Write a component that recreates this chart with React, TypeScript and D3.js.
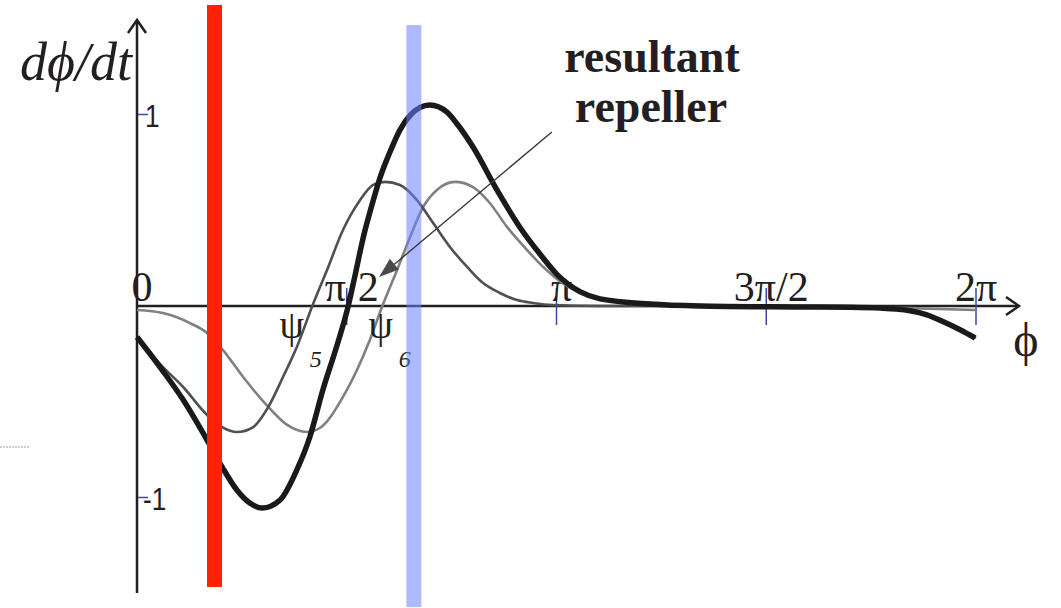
import React from 'react';
import * as d3 from 'd3';

const W = 1061;
const H = 608;

// φ in multiples of π, paired with dφ/dt values
const psi5Phi = [0, 0.062, 0.110, 0.167, 0.203, 0.238, 0.277, 0.313, 0.348, 0.381, 0.417, 0.453, 0.491, 0.532, 0.563, 0.591, 0.627, 0.667, 0.706, 0.746, 0.787, 0.825, 0.865, 0.906, 0.944, 0.992, 1.104, 1.342, 1.580, 1.700, 1.771, 1.810, 1.843, 1.883, 1.921, 1.962, 2.0];
const psi5Val = [-0.167, -0.319, -0.423, -0.569, -0.632, -0.658, -0.632, -0.527, -0.371, -0.214, -0.005, 0.188, 0.397, 0.554, 0.632, 0.648, 0.632, 0.554, 0.433, 0.308, 0.204, 0.120, 0.068, 0.031, 0.016, 0.005, 0, 0, 0, -0.002, -0.006, -0.012, -0.021, -0.043, -0.078, -0.121, -0.167];

const psi6Phi = [0, 0.062, 0.126, 0.167, 0.205, 0.253, 0.313, 0.358, 0.405, 0.436, 0.491, 0.555, 0.584, 0.620, 0.651, 0.682, 0.715, 0.758, 0.801, 0.841, 0.882, 0.930, 0.968, 1.001, 1.056, 1.104, 1.223, 1.342, 1.580, 1.819, 2.0];
const psi6Val = [-0.021, -0.037, -0.089, -0.141, -0.230, -0.371, -0.527, -0.621, -0.658, -0.637, -0.475, -0.178, -0.005, 0.188, 0.360, 0.517, 0.606, 0.648, 0.621, 0.538, 0.413, 0.292, 0.204, 0.141, 0.068, 0.037, 0.010, 0, -0.005, -0.010, -0.021];

const sumPhi = [0, 0.062, 0.110, 0.167, 0.203, 0.238, 0.269, 0.298, 0.341, 0.381, 0.412, 0.443, 0.477, 0.503, 0.520, 0.539, 0.560, 0.579, 0.603, 0.627, 0.651, 0.675, 0.698, 0.739, 0.765, 0.801, 0.858, 0.913, 0.961, 1.001, 1.056, 1.104, 1.223, 1.342, 1.580, 1.700, 1.771, 1.810, 1.843, 1.883, 1.921, 1.962, 1.998];
const sumVal = [-0.162, -0.340, -0.490, -0.700, -0.841, -0.961, -1.029, -1.055, -1.013, -0.856, -0.684, -0.439, -0.204, -0.005, 0.162, 0.355, 0.527, 0.668, 0.804, 0.920, 0.995, 1.037, 1.050, 1.013, 0.945, 0.830, 0.606, 0.410, 0.270, 0.165, 0.075, 0.037, 0.010, 0, -0.005, -0.007, -0.011, -0.016, -0.025, -0.046, -0.081, -0.124, -0.167];

const xTickValues = [0, 0.5, 1, 1.5, 2];
const xTickLabels = ['0', 'π/2', 'π', '3π/2', '2π'];
const yTickValues = [1, -1];
const yTickLabels = ['1', '-1'];

// vertical highlight bands: φ (×π) and dφ/dt extent
const redBandPhi = 0.1847;
const redBandRange = [-1.467, 1.572];
const blueBandPhi = 0.66;
const blueBandRange = [-1.572, 1.467];

// fixed points labelled under the axis
const fixedPointNames = ['5', '6'];
const fixedPointPhi = [0.369, 0.581];

// annotation arrow (φ ×π, dφ/dt)
const arrowFrom = [0.989, 0.909];
const arrowTo = [0.577, 0.151];

const x = d3.scaleLinear().domain([0, 2]).range([137, 976]);
const y = d3.scaleLinear().domain([-1, 1]).range([497.5, 114.5]);

const toPairs = (p: number[], v: number[]) => p.map((d, i) => [d, v[i]] as [number, number]);

const line = d3
  .line<[number, number]>()
  .x((d) => x(d[0]))
  .y((d) => y(d[1]))
  .curve(d3.curveMonotoneX);

const SERIF = '"Liberation Serif", "Times New Roman", serif';
const SANS = '"Liberation Sans", Arial, sans-serif';
const INK = '#231f20';
const TICK = '#3b48a8';

export default function App() {
  const y0 = y(0);
  const bandW = 15;

  const ax = x(arrowFrom[0]);
  const ay = y(arrowFrom[1]);
  const bx = x(arrowTo[0]);
  const by = y(arrowTo[1]);
  const ang = Math.atan2(by - ay, bx - ax);
  const headLen = 20;
  const headHalf = 7;
  const hbx = bx - headLen * Math.cos(ang);
  const hby = by - headLen * Math.sin(ang);
  const head = [
    [bx, by],
    [hbx + headHalf * Math.sin(ang), hby - headHalf * Math.cos(ang)],
    [hbx - headHalf * Math.sin(ang), hby + headHalf * Math.cos(ang)],
  ]
    .map((p) => p.join(','))
    .join(' ');

  return (
    <svg
      width={W}
      height={H}
      viewBox={`0 0 ${W} ${H}`}
      style={{ position: 'absolute', left: 0, top: 0, background: '#fff' }}
    >
      <rect width={W} height={H} fill="#fff" />

      {/* stray dashed rule at the left edge */}
      <line x1={0} x2={29} y1={447} y2={447} stroke="#9a9a9a" strokeWidth={1} strokeDasharray="2 1" />

      {/* axes */}
      <line x1={x(0)} x2={1019} y1={y0} y2={y0} stroke={INK} strokeWidth={2.5} />
      <polyline points={`1006,${y0 - 9} 1019,${y0} 1006,${y0 + 9}`} fill="none" stroke={INK} strokeWidth={2.5} />
      <line x1={x(0)} x2={x(0)} y1={593} y2={20} stroke={INK} strokeWidth={2.5} />
      <polyline points={`${x(0) - 9},33 ${x(0)},20 ${x(0) + 9},33`} fill="none" stroke={INK} strokeWidth={2.5} />

      {/* x ticks */}
      {xTickValues.map((v) =>
        v === 0 ? null : (
          <line key={`xt${v}`} x1={x(v)} x2={x(v)} y1={y0 - 18} y2={y0 + 19} stroke={TICK} strokeWidth={1.5} />
        )
      )}
      {xTickValues.map((v, i) => (
        <text
          key={`xl${v}`}
          x={x(v) + (v === 2 ? 0 : 5)}
          y={301}
          textAnchor="middle"
          fontFamily={SERIF}
          fontSize={42}
          fill={INK}
        >
          {xTickLabels[i]}
        </text>
      ))}

      {/* y ticks */}
      {yTickValues.map((v, i) => (
        <g key={`yt${v}`}>
          <line x1={x(0) + 1} x2={x(0) + 11} y1={y(v)} y2={y(v)} stroke={TICK} strokeWidth={1.5} />
          <text
            transform={`translate(${x(0) + (v < 0 ? 6 : 8)},${y(v) + 12}) scale(0.82,1)`}
            fontFamily={SANS}
            fontSize={32}
            fill={INK}
          >
            {yTickLabels[i]}
          </text>
        </g>
      ))}

      {/* curves */}
      <path d={line(toPairs(psi6Phi, psi6Val)) || ''} fill="none" stroke="#808080" strokeWidth={2.6} />
      <path d={line(toPairs(psi5Phi, psi5Val)) || ''} fill="none" stroke="#505050" strokeWidth={2.6} />
      <path d={line(toPairs(sumPhi, sumVal)) || ''} fill="none" stroke="#1a1a1a" strokeWidth={5.5} strokeLinejoin="round" />

      {/* fixed-point labels */}
      {fixedPointNames.map((n, i) => (
        <g key={`fp${n}`}>
          <text x={x(fixedPointPhi[i])} y={338} textAnchor="middle" fontFamily={SERIF} fontSize={39} fill={INK}>
            ψ
          </text>
          <text
            x={x(fixedPointPhi[i]) + 24}
            y={367}
            textAnchor="middle"
            fontFamily={SERIF}
            fontStyle="italic"
            fontSize={24}
            fill={INK}
          >
            {n}
          </text>
        </g>
      ))}

      {/* highlight bands */}
      <rect
        x={x(redBandPhi) - bandW / 2}
        width={bandW}
        y={y(redBandRange[1])}
        height={y(redBandRange[0]) - y(redBandRange[1])}
        fill="#ff2200"
      />
      <rect
        x={x(blueBandPhi) - bandW / 2}
        width={bandW}
        y={y(blueBandRange[1])}
        height={y(blueBandRange[0]) - y(blueBandRange[1])}
        fill="rgb(105,130,255)"
        fillOpacity={0.55}
      />

      {/* annotation */}
      <line x1={ax} y1={ay} x2={hbx} y2={hby} stroke="#3a3a3a" strokeWidth={1.4} />
      <polygon points={head} fill="#4a4a4a" />
      <text x={652} y={72} textAnchor="middle" fontFamily={SERIF} fontWeight="bold" fontSize={46} fill={INK}>
        resultant
      </text>
      <text x={651} y={122} textAnchor="middle" fontFamily={SERIF} fontWeight="bold" fontSize={46} fill={INK}>
        repeller
      </text>

      {/* axis titles */}
      <text x={20} y={80} fontFamily={SERIF} fontStyle="italic" fontSize={54} fill={INK}>
        dϕ/dt
      </text>
      <text x={1026} y={356} textAnchor="middle" fontFamily={SERIF} fontSize={48} fill={INK}>
        ϕ
      </text>
    </svg>
  );
}
